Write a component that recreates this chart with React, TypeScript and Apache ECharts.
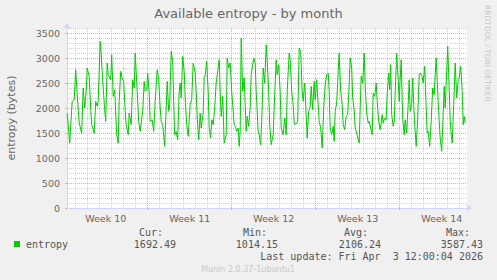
import React, { useEffect, useRef } from "react";
import * as echarts from "echarts";

// Time in hours since the start of "Week 10" (Sunday 00:00); 1 plot pixel = 2 hours
const sampleHours = [
  7, 12, 17, 21, 24, 27, 31, 36, 39, 42, 45, 47, 51, 54, 56, 61, 64, 67, 69, 73, 75, 79, 82, 84, 87, 89, 94, 96, 99, 102,
  106, 109, 111, 114, 117, 120, 123, 125, 129, 131, 135, 138, 141, 143, 147, 150, 153, 158, 161, 163, 166, 168, 171, 173,
  177, 180, 183, 187, 190, 193, 195, 198, 202, 205, 207, 210, 212, 215, 218, 220, 222, 225, 228, 231, 233, 235, 238, 241,
  243, 246, 249, 253, 256, 259, 263, 265, 267, 270, 273, 275, 279, 281, 283, 286, 289, 291, 294, 296, 299, 302, 305, 308,
  311, 313, 315, 318, 321, 325, 327, 330, 333, 336, 338, 341, 343, 346, 349, 351, 353, 355, 358, 361, 363, 365, 367, 370,
  373, 375, 378, 380, 383, 385, 389, 391, 394, 397, 399, 402, 405, 407, 410, 412, 415, 419, 422, 425, 427, 430, 433, 435,
  439, 442, 445, 447, 451, 453, 456, 459, 461, 463, 466, 468, 471, 474, 477, 479, 482, 485, 487, 490, 493, 495, 498, 501,
  503, 506, 509, 511, 514, 517, 520, 523, 526, 529, 531, 533, 536, 539, 541, 543, 546, 549, 551, 554, 557, 559, 562, 565,
  568, 571, 573, 576, 578, 581, 583, 586, 591, 593, 595, 598, 601, 603, 606, 609, 611, 614, 617, 619, 622, 625, 627, 630,
  633, 637, 639, 642, 645, 647, 650, 652, 654, 656, 659, 661, 663, 666, 669, 671, 673, 675, 678, 681, 683, 686, 689, 691,
  693, 696, 698, 700, 702, 705, 708, 711, 713, 717, 719, 722, 725, 727, 729, 732, 735, 738, 741, 743, 745, 748, 751, 753,
  756, 759, 761, 763, 765, 768, 770, 773, 775, 777, 780, 783, 786, 789, 791, 794, 797, 799, 801, 803,
];

const entropyValues = [
  1900, 1300, 2133, 2166, 2766, 2266, 1700, 1500, 2400, 2000, 2333, 2800, 2633, 2000, 1666, 1500, 2133, 2033, 2133, 3333,
  3066, 2400, 1966, 1733, 2900, 2666, 2566, 3066, 2233, 2366, 1466, 1300, 2133, 2733, 2600, 2533, 1933, 1666, 1466, 1900,
  1666, 2566, 2400, 3100, 2333, 1733, 1533, 1933, 2533, 2333, 2366, 2700, 2300, 1733, 1766, 1533, 2133, 2766, 2566, 2000,
  1733, 1666, 1233, 2000, 2533, 1933, 2066, 3133, 2933, 2133, 1466, 1533, 1366, 2333, 2500, 2200, 3033, 2733, 2200, 1666,
  1433, 2066, 2166, 2900, 2700, 2333, 1800, 1366, 1900, 1600, 1900, 2633, 2633, 2933, 2333, 1600, 1400, 1766, 1666, 2000,
  2500, 2733, 2966, 2333, 1833, 2233, 1300, 1466, 3000, 2800, 2900, 2333, 2066, 1666, 1633, 1533, 1600, 1233, 1533, 3400,
  2333, 2600, 2066, 1533, 1833, 1633, 2000, 2666, 2866, 3000, 2900, 2333, 1533, 1466, 1266, 2000, 2800, 2500, 3266, 2933,
  2333, 1666, 1266, 1466, 2266, 2966, 2666, 2866, 2333, 1600, 1466, 1800, 1466, 2333, 3100, 2966, 2333, 2066, 1700, 1666,
  1700, 1733, 3200, 3133, 2333, 2133, 2500, 1866, 1400, 1933, 2033, 2433, 1966, 2533, 2166, 2566, 2066, 1733, 1600, 1200,
  2000, 2466, 2666, 2700, 2333, 1600, 1466, 1633, 1333, 1933, 2100, 2733, 3100, 2333, 2066, 1666, 1566, 1833, 1866, 2466,
  3000, 2800, 2200, 1966, 1600, 1500, 1300, 2000, 2633, 2500, 3100, 2433, 1900, 1700, 1733, 1600, 1466, 2300, 2233, 2500,
  2133, 1733, 1566, 1866, 1700, 1800, 1766, 2300, 2700, 2366, 2866, 1866, 1633, 1733, 2300, 3100, 2566, 2133, 2600, 2966,
  1800, 1466, 1766, 1500, 2066, 2566, 1933, 2066, 2600, 2066, 1666, 1233, 1800, 2666, 2700, 2633, 2500, 2833, 2000, 1500,
  1533, 1233, 1733, 2400, 2266, 2666, 3000, 2333, 1733, 1400, 1133, 1866, 2433, 2000, 2500, 3233, 2666, 1766, 1466, 1300,
  2066, 2900, 2200, 2566, 2600, 2833, 2333, 1666, 1833, 1700,
];

const weekLabels = ["Week 10", "Week 11", "Week 12", "Week 13", "Week 14"];
const weekBoundaryHours = [168, 336, 504, 672];
const yTickValues = [0, 500, 1000, 1500, 2000, 2500, 3000, 3500];

const legendHeaders = ["Cur:", "Min:", "Avg:", "Max:"];
const legendValues = ["1692.49", "1014.15", "2106.24", "3587.43"];
const seriesName = "entropy";
const lastUpdate = "Last update: Fri Apr  3 12:00:04 2026";

export default function App() {
  const ref = useRef<HTMLDivElement>(null);

  useEffect(() => {
    if (!ref.current) return;
    const chart = echarts.init(ref.current, undefined, { renderer: "svg" });

    const weekMids = weekLabels.map((_, i) => 84 + 168 * i);
    const dayTicks: number[] = [];
    for (let d = 1; d <= 33; d++) if (d % 7 !== 0) dayTicks.push(d * 24);
    const minorY: number[] = [];
    for (let v = 100; v <= 3600; v += 100) if (v % 500 !== 0) minorY.push(v);

    const font = "DejaVu Sans";
    const mono = "DejaVu Sans Mono";
    const txt = "#666666";
    const red = "#eba3a3";
    const gray = "#cfcfcf";
    const axisC = "#CFD6F8";
    const dotted = [1, 1];

    const gridLines: any[] = [
      ...minorY.map((v) => ({ yAxis: v, lineStyle: { color: gray, type: dotted, width: 1 } })),
      ...dayTicks.map((h) => ({ xAxis: h, lineStyle: { color: gray, type: dotted, width: 1 } })),
      ...yTickValues.filter((v) => v > 0).map((v) => ({ yAxis: v, lineStyle: { color: red, type: dotted, width: 1 } })),
      ...weekBoundaryHours.map((h) => ({ xAxis: h, lineStyle: { color: red, type: dotted, width: 1 } })),
    ];

    const headerRight = [163, 267, 368, 470];
    const valueRight = [176, 278, 381, 483];

    const graphic: any[] = [
      {
        type: "text", x: 248.5, y: 13.5,
        style: { text: "Available entropy - by month", fontSize: 13, fontFamily: font, fill: txt, align: "center", verticalAlign: "middle" },
      },
      {
        type: "text", x: 11, y: 118, rotation: Math.PI / 2,
        style: { text: "entropy (bytes)", fontSize: 11, fontFamily: font, fill: txt, align: "center", verticalAlign: "middle" },
      },
      {
        type: "text", x: 487, y: 5, rotation: -Math.PI / 2,
        style: { text: "RRDTOOL / TOBI OETIKER", fontSize: 7.5, fontFamily: font, fill: "#c8c8c8", align: "left", verticalAlign: "middle" },
      },
      { type: "rect", shape: { x: 14, y: 241, width: 6, height: 6 }, style: { fill: "#00cc00" } },
      {
        type: "text", x: 26, y: 244.5,
        style: { text: seriesName, fontSize: 10, fontFamily: mono, fill: "#555", align: "left", verticalAlign: "middle" },
      },
      {
        type: "text", x: 483, y: 256.7,
        style: { text: lastUpdate, fontSize: 10, fontFamily: mono, fill: "#555", align: "right", verticalAlign: "middle" },
      },
      {
        type: "text", x: 248, y: 269.5,
        style: { text: "Munin 2.0.37-1ubuntu1", fontSize: 8, fontFamily: font, fill: "#c8c8c8", align: "center", verticalAlign: "middle" },
      },
    ];
    legendHeaders.forEach((h, i) => {
      graphic.push({
        type: "text", x: headerRight[i], y: 232.7,
        style: { text: h, fontSize: 10, fontFamily: mono, fill: "#555", align: "right", verticalAlign: "middle" },
      });
      graphic.push({
        type: "text", x: valueRight[i], y: 244.5,
        style: { text: legendValues[i], fontSize: 10, fontFamily: mono, fill: "#555", align: "right", verticalAlign: "middle" },
      });
    });

    const xMin = 6.6;
    const xMax = 806.6;
    const data = sampleHours.map((h, i) => [h, entropyValues[i]]);

    chart.setOption({
      animation: false,
      backgroundColor: "#f0f0f0",
      grid: {
        left: 67, top: 28, width: 400, height: 180,
        show: true, backgroundColor: "#ffffff", borderWidth: 0, containLabel: false,
      },
      xAxis: {
        type: "value", min: xMin, max: xMax, position: "bottom",
        axisLine: {
          show: true, onZero: false, lineStyle: { color: axisC, width: 1 },
          symbol: ["none", "arrow"], symbolSize: [6, 6], symbolOffset: [0, 5],
        },
        axisTick: { show: true, length: 2, inside: false, customValues: weekBoundaryHours, lineStyle: { color: red } },
        axisLabel: {
          show: true, customValues: weekMids, fontSize: 9.5, fontFamily: font, color: txt, margin: 5,
          formatter: (v: number) => weekLabels[Math.round((v - 84) / 168)] ?? "",
        },
        splitLine: { show: false },
      },
      yAxis: {
        type: "value", min: 0, max: 3600, position: "left",
        axisLine: {
          show: true, onZero: false, lineStyle: { color: axisC, width: 1 },
          symbol: ["none", "arrow"], symbolSize: [6, 6], symbolOffset: [0, 5],
        },
        axisTick: { show: true, length: 2, customValues: yTickValues, lineStyle: { color: red } },
        axisLabel: {
          show: true, customValues: yTickValues, fontSize: 9.5, fontFamily: font, color: txt, margin: 7,
          formatter: (v: number) => String(v),
        },
        splitLine: { show: false },
      },
      series: [
        {
          name: "grid",
          type: "line",
          data,
          showSymbol: false,
          symbol: "none",
          silent: true,
          lineStyle: { opacity: 0, width: 0 },
          z: 1,
          markLine: {
            silent: true,
            symbol: ["none", "none"],
            label: { show: false },
            emphasis: { disabled: true },
            animation: false,
            data: gridLines,
          },
        },
        {
          name: seriesName,
          type: "line",
          data,
          showSymbol: false,
          symbol: "none",
          lineStyle: { color: "#00cc00", width: 1 },
          z: 5,
        },
      ],
      graphic,
    });

    return () => chart.dispose();
  }, []);

  return <div ref={ref} style={{ width: 497, height: 280, position: "absolute", left: 0, top: 0 }} />;
}
